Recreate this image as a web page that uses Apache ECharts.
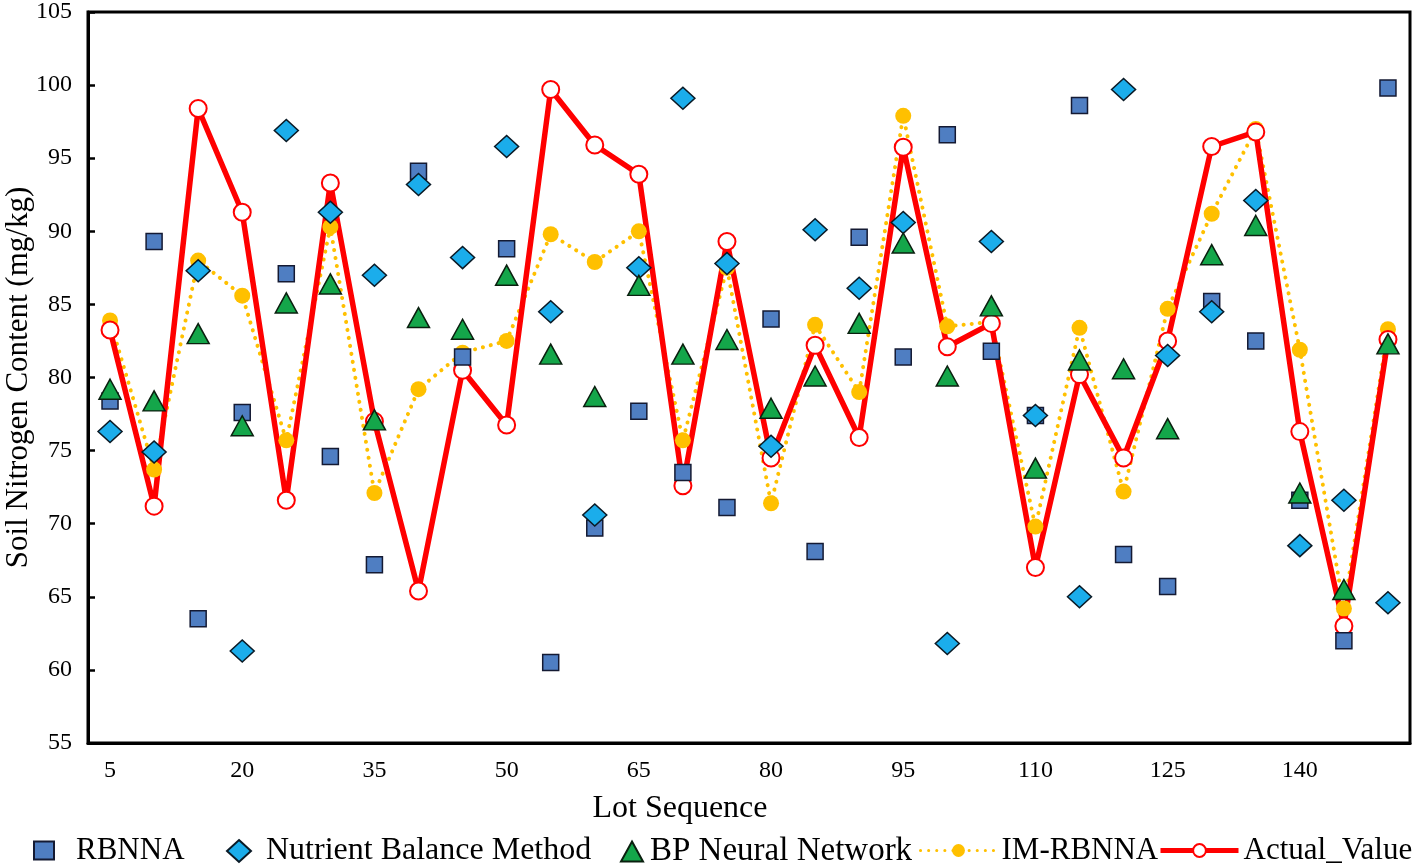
<!DOCTYPE html>
<html>
<head>
<meta charset="utf-8">
<title>Soil Nitrogen Content</title>
<script src="https://cdn.jsdelivr.net/npm/echarts/dist/echarts.min.js"></script>
<style>
    html, body { margin: 0; padding: 0; background: #fff; }
    #chart { width: 1415px; height: 864px; }
</style>
</head>
<body>
<div id="chart"></div>
<script>
// 批次序号
var lots = ['5', '10', '15', '20', '25', '30', '35', '40', '45', '50',
    '55', '60', '65', '70', '75', '80', '85', '90', '95', '100',
    '105', '110', '115', '120', '125', '130', '135', '140', '145', '150'];

// 各方法的预测值 (mg/kg)
var rbnna = [78.4, 89.3, 63.5, 77.6, 87.1, 74.6, 67.2, 94.1, 81.4, 88.8,
    60.5, 69.7, 77.7, 73.5, 71.1, 84.0, 68.1, 89.6, 81.4, 96.6,
    81.8, 77.4, 98.6, 67.9, 65.7, 85.2, 82.5, 71.6, 62.0, 99.8];
var nutrient = [76.3, 74.9, 87.3, 61.3, 96.9, 91.3, 87.0, 93.2, 88.2, 95.8,
    84.5, 70.6, 87.5, 99.1, 87.8, 75.3, 90.1, 86.1, 90.6, 61.8,
    89.3, 77.4, 65.0, 99.7, 81.5, 84.5, 92.1, 68.5, 71.6, 64.6];
var bpNet = [79.2, 78.4, 83.0, 76.7, 85.1, 86.4, 77.1, 84.1, 83.3, 87.0,
    81.6, 78.7, 86.3, 81.6, 82.6, 77.9, 80.1, 83.7, 89.2, 80.1,
    84.9, 73.8, 81.2, 80.6, 76.5, 88.4, 90.4, 72.1, 65.5, 82.3];
var imRbnna = [83.9, 73.7, 88.0, 85.6, 75.7, 90.3, 72.1, 79.2, 81.7, 82.5,
    89.8, 87.9, 90.0, 75.7, 87.5, 71.4, 83.6, 79.0, 97.9, 83.5,
    83.8, 69.8, 83.4, 72.2, 84.7, 91.2, 97.0, 81.9, 64.2, 83.3];
var actual = [83.25, 71.2, 98.4, 91.3, 71.6, 93.3, 77.0, 65.4, 80.5, 76.75,
    99.7, 95.9, 93.9, 72.6, 89.3, 74.5, 82.2, 75.9, 95.75, 82.1,
    83.7, 67.0, 80.2, 74.5, 82.5, 95.8, 96.8, 76.3, 63.0, 82.6];

var font = 'Liberation Serif';

// 图例, 每项单独放, 好控制位置
function legendAt(name, left, w, h, pad, size, lineW) {
    var lg = {
        data: [name],
        left: left,
        top: 830,
        itemWidth: w,
        itemHeight: h,
        itemGap: 0,
        selectedMode: false,
        textStyle: {
            fontFamily: font,
            fontSize: size,
            color: '#000',
            padding: [0, 0, 0, pad]
        }
    };
    if (lineW) {
        lg.lineStyle = { width: lineW };
    }
    return lg;
}

var myChart = echarts.init(document.getElementById('chart'));

var option = {
    animation: false,
    backgroundColor: '#fff',
    grid: {
        show: true,
        left: 88,
        right: 5,
        top: 12,
        bottom: 121,
        outerBoundsMode: 'none',
        containLabel: false,
        borderColor: '#000',
        borderWidth: 3,
        backgroundColor: 'transparent'
    },
    legend: [
        legendAt('RBNNA', 28, 20, 18, 17, 31),
        legendAt('Nutrient Balance Method', 221, 24, 22, 10, 32),
        legendAt('BP Neural Network', 615, 22, 20, 2, 33),
        legendAt('IM-RBNNA', 914, 76, 16, 0, 31, 3),
        legendAt('Actual_Value', 1153, 78, 16, 0, 31, 5)
    ],
    xAxis: {
        type: 'category',
        data: lots,
        boundaryGap: true,
        name: 'Lot Sequence',
        nameLocation: 'middle',
        nameGap: 50,
        nameTextStyle: {
            fontFamily: font,
            fontSize: 32,
            color: '#000',
            padding: [0, 138, 0, 0]
        },
        axisLine: { lineStyle: { color: '#000', width: 3 } },
        axisTick: { inside: true, length: 7, interval: 2, lineStyle: { color: '#000', width: 2.5 } },
        axisLabel: {
            interval: 2,
            margin: 16,
            fontFamily: font,
            fontSize: 24,
            color: '#000'
        },
        splitLine: { show: false }
    },
    yAxis: {
        type: 'value',
        min: 55,
        max: 105,
        interval: 5,
        name: 'Soil Nitrogen Content (mg/kg)',
        nameLocation: 'middle',
        nameGap: 54,
        nameMoveOverlap: false,
        nameTextStyle: {
            fontFamily: font,
            fontSize: 31,
            color: '#000'
        },
        axisLine: { show: true, lineStyle: { color: '#000', width: 3 } },
        axisTick: { show: true, inside: true, length: 7, lineStyle: { color: '#000', width: 2.5 } },
        axisLabel: {
            margin: 16,
            fontFamily: font,
            fontSize: 24,
            color: '#000'
        },
        splitLine: { show: false }
    },
    series: [
        {
            name: 'IM-RBNNA',
            type: 'line',
            data: imRbnna,
            symbol: 'circle',
            symbolSize: 16,
            itemStyle: { color: '#FFC000' },
            lineStyle: { color: '#FFC000', width: 4, type: [0.1, 8], cap: 'round' }
        },
        {
            name: 'Actual_Value',
            type: 'line',
            data: actual,
            symbol: 'emptyCircle',
            symbolSize: 17,
            itemStyle: { color: '#FF0000', borderColor: '#FF0000', borderWidth: 2.5 },
            lineStyle: { color: '#FF0000', width: 5.5 }
        },
        {
            name: 'RBNNA',
            type: 'scatter',
            z: 4,
            data: rbnna,
            symbol: 'rect',
            symbolSize: 16,
            itemStyle: { color: '#4F7EC2', borderColor: '#141a33', borderWidth: 1.5, opacity: 1 }
        },
        {
            name: 'Nutrient Balance Method',
            type: 'scatter',
            z: 4,
            data: nutrient,
            symbol: 'diamond',
            symbolSize: [24, 22],
            itemStyle: { color: '#1BADEB', borderColor: '#0a1a26', borderWidth: 1.5, opacity: 1 }
        },
        {
            name: 'BP Neural Network',
            type: 'scatter',
            z: 4,
            data: bpNet,
            symbol: 'triangle',
            symbolSize: [22, 20],
            itemStyle: { color: '#14A64A', borderColor: '#0a200f', borderWidth: 1.5, opacity: 1 }
        }
    ]
};

myChart.setOption(option);
</script>
</body>
</html>
